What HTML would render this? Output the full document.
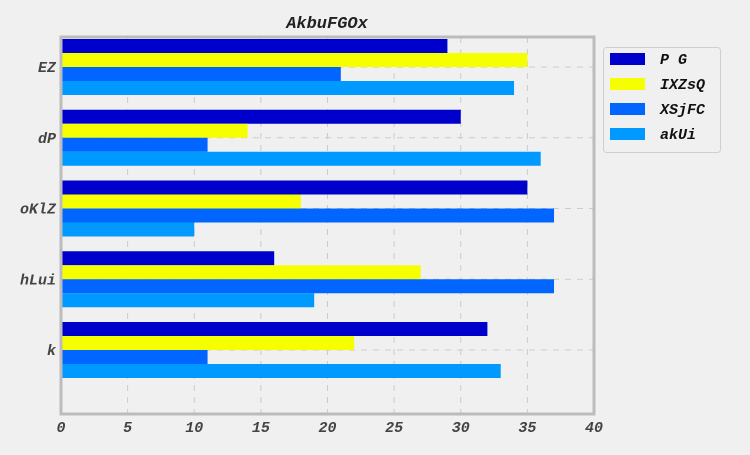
<!DOCTYPE html>
<html><head><meta charset="utf-8"><style>
body{margin:0;background:#f0f0f0;}
svg text{font-family:"Liberation Mono",monospace;font-weight:bold;font-style:italic;}
</style></head><body>
<svg width="750" height="450" xmlns="http://www.w3.org/2000/svg">
<rect width="750" height="450" fill="#f0f0f0"/>
<text x="327" y="28" font-size="17" text-anchor="middle" fill="#222">AkbuFGOx</text>
<g id="grid"></g>
<g id="bars"></g>
<rect x="61" y="37" width="533" height="377" fill="none" stroke="#bcbcbc" stroke-width="3"/>
<g id="ticks"></g>
<g id="legend"></g>
</svg>
<script>
const categories=["EZ","dP","oKlZ","hLui","k"];
const seriesNames=["P G","IXZsQ","XSjFC","akUi"];
const seriesPG=[29,30,35,16,32];
const seriesIXZsQ=[35,14,18,27,22];
const seriesXSjFC=[21,11,37,37,11];
const seriesAkUi=[34,36,10,19,33];
const xTicks=[0,5,10,15,20,25,30,35,40];
const colors=["#0000cc","#f5ff00","#0066ff","#0099ff"];
const NS="http://www.w3.org/2000/svg";
const X0=61,X1=594,XMAX=40;
const xs=v=>X0+(X1-X0)*v/XMAX;
const ys=i=>67+i*70.75;
const BH=14;
function mk(t,a,p){const e=document.createElementNS(NS,t);for(const k in a)e.setAttribute(k,a[k]);p.appendChild(e);return e;}
const grid=document.getElementById('grid'),bars=document.getElementById('bars'),ticks=document.getElementById('ticks'),leg=document.getElementById('legend');
xTicks.forEach(t=>{
  const l=mk('line',{x1:xs(t),x2:xs(t),y1:37,y2:414,stroke:'#cbcbcb','stroke-dasharray':'6,6'},grid);
  
  
  const tx=mk('text',{x:xs(t),y:432,'font-size':15,'text-anchor':'middle',fill:'#444'},ticks);
  tx.textContent=t;
  
  
});
const all=[seriesPG,seriesIXZsQ,seriesXSjFC,seriesAkUi];
categories.forEach((c,i)=>{
  const l=mk('line',{x1:61,x2:594,y1:ys(i),y2:ys(i),stroke:'#cbcbcb','stroke-dasharray':'6,6'},grid);
  
  
  const tx=mk('text',{x:56,y:ys(i)+5,'font-size':15,'text-anchor':'end',fill:'#444'},ticks);
  tx.textContent=c;
  
  
  all.forEach((s,j)=>{
    const r=mk('rect',{x:xs(0),y:ys(i)-2*BH+j*BH,width:xs(s[i])-xs(0),height:BH,fill:colors[j]},bars);
    
    
  });
});
const box=mk('rect',{x:603.5,y:47.5,width:117,height:105,rx:3,fill:'#f0f0f0',stroke:'#cfcfcf'},leg);


seriesNames.forEach((n,j)=>{
  const y=59+j*25;
  const r=mk('rect',{x:610,y:y-6,width:35,height:12,fill:colors[j]},leg);
  
  
  const t=mk('text',{x:660,y:y+5,'font-size':15,fill:'#111'},leg);
  t.textContent=n;
  t.setAttribute('xml:space','preserve');
  t.style.whiteSpace='pre';
  
  
});
</script>
</body></html>
